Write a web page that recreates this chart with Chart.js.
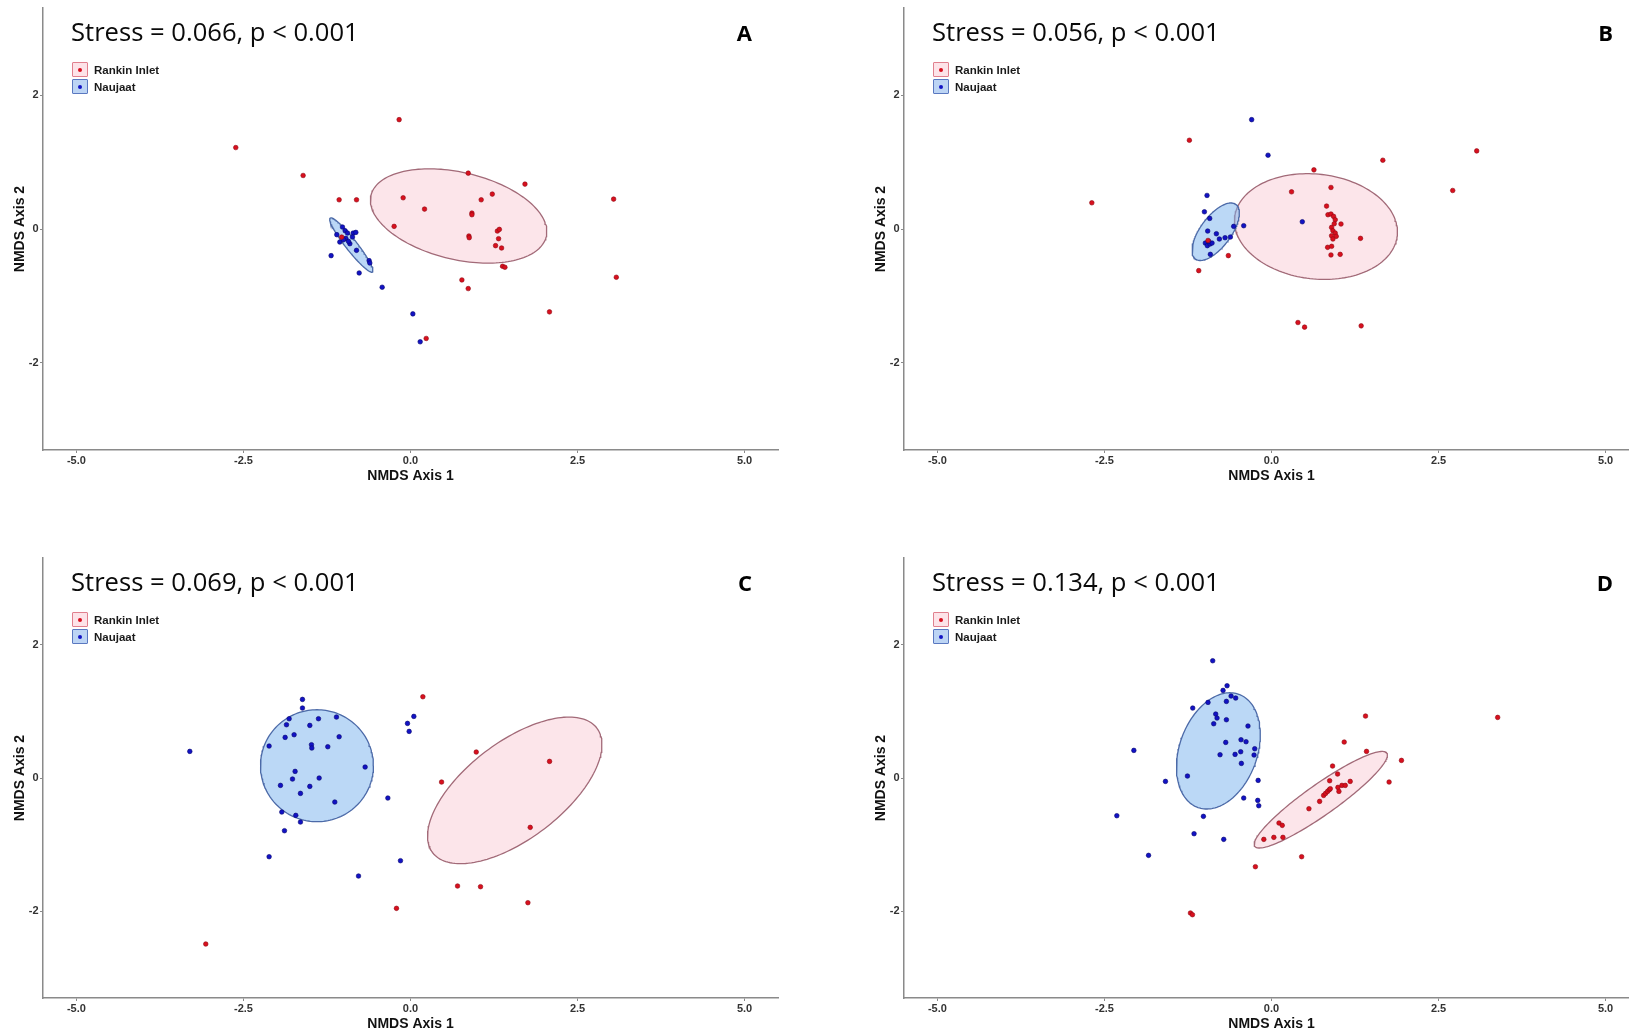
<!DOCTYPE html>
<html><head><meta charset="utf-8">
<script src="https://cdn.jsdelivr.net/npm/chart.js@4.4.1/dist/chart.umd.min.js"></script>
<style>
html,body{margin:0;padding:0;background:#fff;width:1629px;height:1034px;overflow:hidden;position:relative}
.panel{position:absolute;width:790px}
.panel canvas{position:absolute;left:0;top:0}
.stress{position:absolute;left:71px;top:19px;font-family:'Open Sans',sans-serif;font-size:25.6px;line-height:25.6px;color:#0a0a0a;white-space:nowrap}
.letter{position:absolute;right:38px;top:20.5px;font-family:'Open Sans',sans-serif;font-weight:bold;font-size:22px;line-height:22px;color:#000}
.legend{position:absolute;left:72px;top:62px;font-family:'Liberation Sans',Arial,sans-serif;font-weight:bold;font-size:11.5px;color:#1a1a1a}
.row{position:relative;height:17px;white-space:nowrap}
.key{position:absolute;left:0;top:0;width:14px;height:13px;border:1px solid;border-radius:1px}
.key i{position:absolute;left:5px;top:4.5px;width:4px;height:4px;border-radius:50%}
.lbl{position:absolute;left:22px;top:1px;line-height:14px}
</style>
</head><body>
<div class="panel" id="pA" style="left:0;top:0;height:490px"><canvas id="cA" width="790" height="490"></canvas></div>
<div class="panel" id="pB" style="left:861px;top:0;height:490px"><canvas id="cB" width="790" height="490"></canvas></div>
<div class="panel" id="pC" style="left:0;top:550px;height:488px"><canvas id="cC" width="790" height="488"></canvas></div>
<div class="panel" id="pD" style="left:861px;top:550px;height:488px"><canvas id="cD" width="790" height="488"></canvas></div>
<script>
// ---- axes ----
const X_TICKS = [-5, -2.5, 0, 2.5, 5];
const Y_TICKS = [-2, 0, 2];
const X_RANGE = [-5.5, 5.5];
const Y_RANGE = [-3.3, 3.3];
const SERIES = ['Rankin Inlet', 'Naujaat'];
const STRESS = ['Stress = 0.066, p < 0.001', 'Stress = 0.056, p < 0.001', 'Stress = 0.069, p < 0.001', 'Stress = 0.134, p < 0.001'];
const LETTERS = ['A', 'B', 'C', 'D'];

// ---- panel A ----
const A_rankin = [[-2.615,1.217],[-1.607,0.80],[-1.068,0.437],[-0.808,0.437],[-0.17,1.634],[-0.11,0.467],[-0.245,0.04],[-1.03,-0.12],
 [0.864,0.835],[1.713,0.671],[0.21,0.298],[1.058,0.437],[1.224,0.522],[0.919,0.238],[0.919,0.214],[0.874,-0.104],[0.879,-0.129],
 [1.30,-0.03],[1.33,-0.005],[1.318,-0.144],[1.273,-0.248],[1.363,-0.283],[1.378,-0.556],[1.413,-0.571],[0.769,-0.76],[0.864,-0.889],
 [3.04,0.447],[3.08,-0.72],[2.08,-1.237],[0.235,-1.634]];
const A_naujaat = [[0.035,-1.267],[0.145,-1.684],[-0.424,-0.869],[-0.768,-0.656],[-1.188,-0.397],[-0.619,-0.472],[-0.609,-0.507],[-0.808,-0.318],
 [-1.018,0.03],[-0.978,-0.025],[-0.943,-0.06],[-1.103,-0.084],[-1.058,-0.194],[-0.968,-0.139],[-0.908,-0.219],[-0.858,-0.06],[-0.818,-0.05],
 [-0.868,-0.119],[-0.928,-0.184],[-1.003,-0.159]];
// ellipse: [centre x, centre y, semi-major, semi-minor, angle deg]
const A_ellRankin = [0.72, 0.195, 1.347, 0.651, -13.2];
const A_ellNaujaat = [-0.886, -0.238, 0.512, 0.085, -51.8];

// ---- panel B ----
const B_rankin = [[-2.689,0.392],[-1.229,1.326],[-1.089,-0.621],[-0.646,-0.397],[-0.95,-0.17],
 [3.071,1.167],[1.666,1.028],[0.635,0.884],[0.30,0.556],[2.712,0.576],[0.89,0.621],[0.824,0.343],
 [0.845,0.214],[0.89,0.224],[0.929,0.189],[0.954,0.139],[0.939,0.079],[0.899,0.025],[0.919,-0.025],[0.954,-0.06],[0.899,-0.10],[0.969,-0.109],[0.919,-0.149],
 [1.04,0.075],[1.332,-0.139],[0.84,-0.273],[0.90,-0.258],[0.89,-0.387],[1.028,-0.378],[0.396,-1.396],[0.495,-1.465],[1.342,-1.446]];
const B_naujaat = [[-0.297,1.634],[-0.052,1.103],[-0.965,0.502],[-1.004,0.258],[-0.925,0.159],[-0.566,0.04],[-0.416,0.05],[-0.955,-0.03],
 [-0.825,-0.07],[-0.78,-0.149],[-0.695,-0.129],[-0.615,-0.119],[-0.99,-0.209],[-0.96,-0.248],[-0.92,-0.224],[-0.89,-0.209],[-0.94,-0.184],
 [-0.915,-0.378],[0.461,0.109]];
const B_ellRankin = [0.665, 0.037, 1.2245, 0.7826, -6.5];
const B_ellNaujaat = [-0.835, -0.04, 0.508, 0.228, 53.4];

// ---- panel C ----
const C_rankin = [[-3.064,-2.49],[-0.21,-1.955],[0.185,1.22],[0.984,0.39],[0.465,-0.06],[2.081,0.25],[1.792,-0.74],[0.704,-1.62],[1.048,-1.63],[1.757,-1.87]];
const C_naujaat = [[-3.303,0.40],[-2.116,-1.18],[-1.886,-0.79],[-1.926,-0.51],[-1.717,-0.56],[-1.647,-0.66],[-1.647,-0.23],[-1.946,-0.11],
 [-1.766,-0.015],[-1.727,0.10],[-1.507,-0.125],[-1.367,0.00],[-1.133,-0.36],[-0.679,0.165],[-2.116,0.48],[-1.876,0.61],[-1.742,0.65],
 [-1.856,0.80],[-1.816,0.89],[-1.617,1.05],[-1.617,1.18],[-1.507,0.79],[-1.377,0.89],[-1.482,0.50],[-1.477,0.45],[-1.238,0.47],
 [-1.108,0.915],[-1.068,0.62],[-0.778,-1.47],[-0.339,-0.30],[-0.15,-1.24],[-0.045,0.82],[-0.02,0.70],[0.05,0.925]];
const C_ellRankin = [1.56, -0.185, 1.544, 0.727, 37.3];
const C_ellNaujaat = [-1.40, 0.185, 0.845, 0.84, 0];

// ---- panel D ----
const D_rankin = [[-1.213,-2.025],[-1.183,-2.05],[-0.241,-1.33],[-0.115,-0.92],[0.035,-0.89],[0.171,-0.89],[0.112,-0.675],[0.161,-0.71],
 [0.451,-1.18],[0.56,-0.46],[0.72,-0.35],[0.78,-0.26],[0.81,-0.23],[0.84,-0.20],[0.865,-0.175],[0.88,-0.16],[0.87,-0.04],[0.914,0.18],
 [0.989,0.06],[0.994,-0.14],[1.009,-0.20],[1.054,-0.11],[1.104,-0.11],[1.178,-0.05],[1.088,0.54],[1.407,0.93],[1.422,0.40],[1.76,-0.06],
 [1.945,0.265],[3.385,0.91]];
const D_naujaat = [[-0.88,1.76],[-0.665,1.385],[-0.725,1.315],[-0.605,1.23],[-0.536,1.20],[-0.675,1.15],[-0.95,1.135],[-1.179,1.05],
 [-0.835,0.96],[-0.815,0.90],[-0.675,0.875],[-0.865,0.815],[-0.352,0.78],[-0.456,0.575],[-0.381,0.545],[-0.685,0.535],[-0.251,0.44],
 [-0.461,0.395],[-0.545,0.355],[-0.261,0.345],[-0.77,0.35],[-0.451,0.22],[-1.258,0.03],[-1.587,-0.05],[-2.06,0.415],[-0.2,-0.035],
 [-0.416,-0.30],[-0.206,-0.335],[-0.191,-0.415],[-1.019,-0.575],[-2.315,-0.565],[-1.159,-0.835],[-0.715,-0.92],[-1.84,-1.16]];
const D_ellRankin = [0.7375, -0.325, 1.211, 0.23, 35.3];
const D_ellNaujaat = [-0.795, 0.4075, 0.903, 0.582, 70.2];

// ---- styles ----
const RED = '#d8101e', RED_EDGE = '#900812';
const BLUE = '#1212c4', BLUE_EDGE = '#06066e';
const RED_FILL = 'rgba(245,160,180,0.28)', RED_LINE = '#a26a78';
const BLUE_FILL = 'rgba(120,178,238,0.5)', BLUE_LINE = '#4c6aa8';
const FONT = "'Liberation Sans', Arial, sans-serif";

function toXY(arr){ return arr.map(p => ({x:p[0], y:p[1]})); }
function ellipsePts(e){
  const [cx, cy, a, b, deg] = e, th = deg*Math.PI/180, n = 160, out = [];
  for (let i = 0; i <= n; i++){
    const t = 2*Math.PI*i/n;
    out.push({x: cx + a*Math.cos(t)*Math.cos(th) - b*Math.sin(t)*Math.sin(th),
              y: cy + a*Math.cos(t)*Math.sin(th) + b*Math.sin(t)*Math.cos(th)});
  }
  return out;
}

function makePanel(id, rankin, naujaat, ellR, ellN){
  return new Chart(document.getElementById(id), {
    type: 'scatter',
    data: { datasets: [
      {label: SERIES[0], data: toXY(rankin), backgroundColor: RED, borderColor: RED_EDGE, borderWidth: 0.6, pointRadius: 2.3, pointHoverRadius: 2.3},
      {label: SERIES[1], data: toXY(naujaat), backgroundColor: BLUE, borderColor: BLUE_EDGE, borderWidth: 0.6, pointRadius: 2.3, pointHoverRadius: 2.3},
      {type: 'line', label: SERIES[1] + ' ellipse', data: ellipsePts(ellN), borderColor: BLUE_LINE, borderWidth: 1.3, backgroundColor: BLUE_FILL, fill: 'shape', pointRadius: 0, tension: 0},
      {type: 'line', label: SERIES[0] + ' ellipse', data: ellipsePts(ellR), borderColor: RED_LINE, borderWidth: 1.3, backgroundColor: RED_FILL, fill: 'shape', pointRadius: 0, tension: 0}
    ]},
    options: {
      responsive: false, animation: false, devicePixelRatio: 1,
      layout: {padding: {top: 8, right: 12, left: 0, bottom: 0}},
      plugins: {legend: {display: false}, tooltip: {enabled: false}},
      scales: {
        x: {type: 'linear', min: X_RANGE[0], max: X_RANGE[1],
            afterBuildTicks: s => { s.ticks = X_TICKS.map(v => ({value: v})); },
            afterFit: s => { s.height = 40; },
            ticks: {callback: v => Number(v).toFixed(1), font: {family: FONT, size: 11, weight: 'bold'}, color: '#333', padding: 1, maxRotation: 0, autoSkip: false},
            grid: {display: true, drawOnChartArea: false, drawTicks: true, tickLength: 3, color: '#8a8a8a'},
            border: {display: true, color: '#8a8a8a', width: 1.5},
            title: {display: true, text: 'NMDS Axis 1', font: {family: FONT, size: 14, weight: 'bold'}, color: '#111', padding: {top: 0, bottom: 5.6}}},
        y: {type: 'linear', min: Y_RANGE[0], max: Y_RANGE[1],
            afterBuildTicks: s => { s.ticks = Y_TICKS.map(v => ({value: v})); },
            afterFit: s => { s.width = 43; },
            ticks: {callback: v => String(v), font: {family: FONT, size: 11, weight: 'bold'}, color: '#333', padding: 1.5},
            grid: {display: true, drawOnChartArea: false, drawTicks: true, tickLength: 3, color: '#8a8a8a'},
            border: {display: true, color: '#8a8a8a', width: 1.5},
            title: {display: true, text: 'NMDS Axis 2', font: {family: FONT, size: 14, weight: 'bold'}, color: '#111', padding: {top: 11.6, bottom: 0}}}
      }
    }
  });
}

function overlay(panelId, idx){
  const p = document.getElementById(panelId);
  const s = document.createElement('div'); s.className = 'stress'; s.textContent = STRESS[idx]; p.appendChild(s);
  const l = document.createElement('div'); l.className = 'letter'; l.textContent = LETTERS[idx]; p.appendChild(l);
  const lg = document.createElement('div'); lg.className = 'legend';
  const keys = [{fill:'#fde3e8', border:'#e0808e', dot:RED}, {fill:'#bcd4f4', border:'#5a78c0', dot:BLUE}];
  SERIES.forEach((name, i) => {
    const r = document.createElement('div'); r.className = 'row';
    r.innerHTML = '<span class="key" style="background:'+keys[i].fill+';border-color:'+keys[i].border+'"><i style="background:'+keys[i].dot+'"></i></span><span class="lbl">'+name+'</span>';
    lg.appendChild(r);
  });
  p.appendChild(lg);
}

makePanel('cA', A_rankin, A_naujaat, A_ellRankin, A_ellNaujaat);
makePanel('cB', B_rankin, B_naujaat, B_ellRankin, B_ellNaujaat);
makePanel('cC', C_rankin, C_naujaat, C_ellRankin, C_ellNaujaat);
makePanel('cD', D_rankin, D_naujaat, D_ellRankin, D_ellNaujaat);
['pA','pB','pC','pD'].forEach((id, i) => overlay(id, i));
</script>
</body></html>
